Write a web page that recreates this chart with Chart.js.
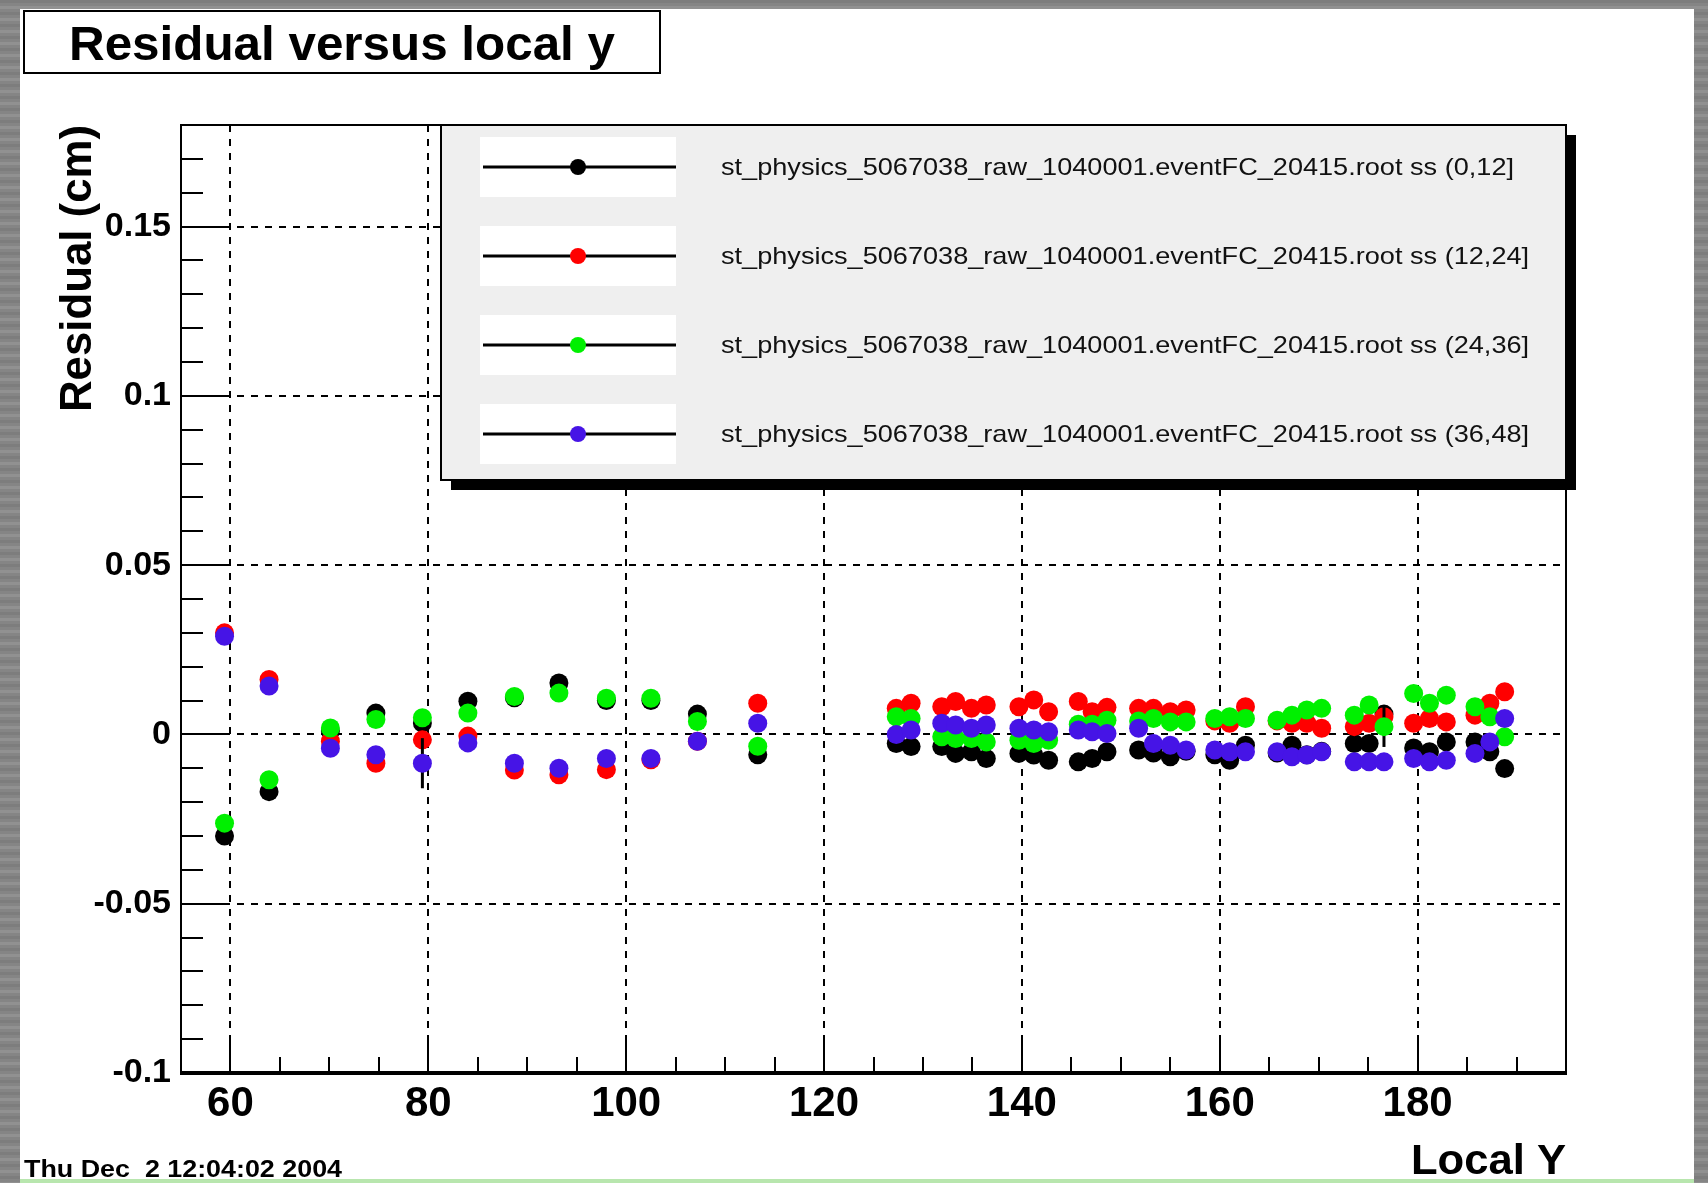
<!DOCTYPE html>
<html lang="en">
<head>
<meta charset="UTF-8">
<title>Residual versus local y</title>
<style>
  html, body { margin: 0; padding: 0; background: #8a8a8a; }
  canvas { display: block; }
</style>
</head>
<body>
<canvas id="residualChart" width="1708" height="1183"></canvas>
<script src="https://cdn.jsdelivr.net/npm/chart.js"></script>
<script>
// Local Y positions shared by the four slices
const localY = [59.4, 63.9, 70.1, 74.7, 79.4, 84.0, 88.7, 93.2, 98.0, 102.5, 107.2, 113.3,
  127.3, 128.8, 131.9, 133.3, 134.9, 136.4, 139.7, 141.2, 142.7, 145.7, 147.1, 148.6,
  151.8, 153.3, 155.0, 156.6, 159.5, 161.0, 162.6, 165.8, 167.3, 168.8, 170.3,
  173.6, 175.1, 176.6, 179.6, 181.2, 182.9, 185.8, 187.3, 188.8];

// residuals (cm) per slice
const resid0to12 = [-0.0300, -0.0169, 0.0010, 0.0063, 0.0034, 0.0098, 0.0108, 0.0152, 0.0100, 0.0100, 0.0060, -0.0060,
  -0.0027, -0.0036, -0.0036, -0.0056, -0.0051, -0.0071, -0.0056, -0.0061, -0.0076, -0.0081, -0.0071, -0.0051,
  -0.0046, -0.0055, -0.0066, -0.0050, -0.0060, -0.0076, -0.0032, -0.0055, -0.0032, -0.0060, -0.0050,
  -0.0027, -0.0027, 0.0060, -0.0040, -0.0051, -0.0022, -0.0022, -0.0051, -0.0101];
const resid12to24 = [0.0300, 0.0162, -0.0020, -0.0085, -0.0016, -0.0005, -0.0105, -0.0119, -0.0104, -0.0075, -0.0020, 0.0092,
  0.0077, 0.0092, 0.0082, 0.0097, 0.0077, 0.0087, 0.0082, 0.0102, 0.0067, 0.0097, 0.0067, 0.0080,
  0.0077, 0.0077, 0.0067, 0.0072, 0.0040, 0.0033, 0.0082, 0.0040, 0.0033, 0.0033, 0.0018,
  0.0023, 0.0033, 0.0052, 0.0033, 0.0047, 0.0037, 0.0057, 0.0092, 0.0126];
const resid24to36 = [-0.0262, -0.0134, 0.0019, 0.0044, 0.0049, 0.0063, 0.0112, 0.0122, 0.0107, 0.0107, 0.0038, -0.0035,
  0.0052, 0.0047, -0.0007, -0.0012, -0.0012, -0.0022, -0.0017, -0.0027, -0.0017, 0.0030, 0.0030, 0.0042,
  0.0040, 0.0047, 0.0037, 0.0037, 0.0047, 0.0052, 0.0047, 0.0042, 0.0057, 0.0072, 0.0077,
  0.0057, 0.0087, 0.0023, 0.0121, 0.0092, 0.0116, 0.0082, 0.0052, -0.0007];
const resid36to48 = [0.0290, 0.0143, -0.0041, -0.0060, -0.0085, -0.0025, -0.0085, -0.0100, -0.0071, -0.0071, -0.0020, 0.0033,
  0.0000, 0.0013, 0.0033, 0.0028, 0.0018, 0.0028, 0.0018, 0.0013, 0.0008, 0.0013, 0.0008, 0.0003,
  0.0018, -0.0027, -0.0032, -0.0046, -0.0046, -0.0051, -0.0051, -0.0051, -0.0066, -0.0061, -0.0051,
  -0.0081, -0.0081, -0.0081, -0.0071, -0.0081, -0.0076, -0.0056, -0.0022, 0.0047];

const residuals = [resid0to12, resid12to24, resid24to36, resid36to48];
const slices = ['(0,12]', '(12,24]', '(24,36]', '(36,48]'];
const filePrefix = 'st_physics_5067038_raw_1040001.eventFC_20415.root ss ';
const colors = ['#000000', '#ff0000', '#00f000', '#4614e6'];

// axis tick labels
const xTickValues = [60, 80, 100, 120, 140, 160, 180];
const yTickValues = [-0.1, -0.05, 0, 0.05, 0.1, 0.15];

// visible error bars: [series, point index, +/- error]
const errorBars = [[3, 4, 0.0074], [2, 37, 0.0060]];

const FONT = '"Liberation Sans", Arial, Helvetica, sans-serif';

function fitText(ctx, text, x, y, width, font) {
  ctx.font = font;
  const w = ctx.measureText(text).width;
  ctx.save();
  ctx.translate(x, y);
  ctx.scale(width / w, 1);
  ctx.textAlign = 'left';
  ctx.textBaseline = 'alphabetic';
  ctx.fillText(text, 0, 0);
  ctx.restore();
}

const rootStyle = {
  id: 'rootStyle',
  beforeDraw(chart) {
    const ctx = chart.ctx;
    ctx.save();
    ctx.fillStyle = '#858585';
    ctx.fillRect(0, 0, chart.width, chart.height);
    for (let y = 0; y < chart.height; y += 6) {
      ctx.fillStyle = (y / 6) % 2 ? 'rgba(255,255,255,0.10)' : 'rgba(0,0,0,0.06)';
      ctx.fillRect(0, y, chart.width, 3);
    }
    ctx.fillStyle = '#ffffff';
    ctx.fillRect(20, 9, 1674, 1171);
    ctx.fillStyle = '#b8e6ae';
    ctx.fillRect(20, 1179, 1674, 4);
    ctx.restore();
  },
  beforeDatasetDraw(chart, args) {
    const ctx = chart.ctx;
    const xs = chart.scales.x, ys = chart.scales.y;
    ctx.save();
    ctx.strokeStyle = '#000';
    ctx.lineWidth = 3;
    errorBars.forEach(([s, i, e]) => {
      if (s !== args.index) return;
      const px = xs.getPixelForValue(localY[i]);
      const v = residuals[s][i];
      ctx.beginPath();
      ctx.moveTo(px, ys.getPixelForValue(v - e));
      ctx.lineTo(px, ys.getPixelForValue(v + e));
      ctx.stroke();
    });
    ctx.restore();
  },
  afterDraw(chart) {
    const ctx = chart.ctx;
    const {left, right, top, bottom} = chart.chartArea;
    const xs = chart.scales.x, ys = chart.scales.y;
    ctx.save();

    // inner ticks
    ctx.strokeStyle = '#000';
    ctx.lineWidth = 2;
    ctx.beginPath();
    for (let k = Math.ceil(ys.min * 100 - 1e-6); k <= Math.floor(ys.max * 100 + 1e-6); k++) {
      const py = Math.round(ys.getPixelForValue(k / 100));
      const len = k % 5 === 0 ? 43 : 22;
      ctx.moveTo(left, py);
      ctx.lineTo(left + len, py);
    }
    for (let k = Math.ceil(xs.min / 5); k <= Math.floor(xs.max / 5); k++) {
      const px = Math.round(xs.getPixelForValue(k * 5));
      const len = (k * 5) % 20 === 0 ? 33 : 16;
      ctx.moveTo(px, bottom);
      ctx.lineTo(px, bottom - len);
    }
    ctx.stroke();

    // frame
    ctx.lineWidth = 2;
    ctx.strokeRect(left, top, right - left, bottom - top);
    ctx.lineWidth = 4;
    ctx.beginPath();
    ctx.moveTo(left - 1, bottom);
    ctx.lineTo(right + 1, bottom);
    ctx.stroke();

    // legend box with shadow
    const lg = {x: 441, y: top, w: right - 441, h: 355};
    ctx.fillStyle = '#000';
    ctx.fillRect(lg.x + 10, lg.y + 10, lg.w, lg.h);
    ctx.fillStyle = '#efefef';
    ctx.fillRect(lg.x, lg.y, lg.w, lg.h);
    ctx.lineWidth = 2;
    ctx.strokeStyle = '#000';
    ctx.strokeRect(lg.x, lg.y, lg.w, lg.h);
    ctx.font = '24px ' + FONT;
    const scaleX = 793 / ctx.measureText(filePrefix + slices[0]).width;
    chart.data.datasets.forEach((ds, i) => {
      const cy = lg.y + 42 + i * 89;
      ctx.fillStyle = '#ffffff';
      ctx.fillRect(480, cy - 30, 196, 60);
      ctx.strokeStyle = '#000';
      ctx.lineWidth = 3;
      ctx.beginPath();
      ctx.moveTo(483, cy);
      ctx.lineTo(676, cy);
      ctx.stroke();
      ctx.fillStyle = ds.backgroundColor;
      ctx.beginPath();
      ctx.arc(578, cy, 8, 0, Math.PI * 2);
      ctx.fill();
      ctx.fillStyle = '#111';
      ctx.font = '24px ' + FONT;
      const w = ctx.measureText(ds.label).width * scaleX;
      fitText(ctx, ds.label, 721, cy + 8, w, '24px ' + FONT);
    });

    // title box
    ctx.fillStyle = '#fff';
    ctx.fillRect(24, 11, 636, 62);
    ctx.strokeStyle = '#000';
    ctx.lineWidth = 2;
    ctx.strokeRect(24, 11, 636, 62);
    ctx.fillStyle = '#000';
    fitText(ctx, 'Residual versus local y', 69, 60, 546, 'bold 48px ' + FONT);

    // axis titles
    ctx.save();
    ctx.translate(91, 412);
    ctx.rotate(-Math.PI / 2);
    fitText(ctx, 'Residual (cm)', 0, 0, 287, 'bold 44px ' + FONT);
    ctx.restore();
    fitText(ctx, 'Local Y', right - 155, 1174, 155, 'bold 42px ' + FONT);

    // date stamp
    fitText(ctx, 'Thu Dec  2 12:04:02 2004', 24, 1177, 318, 'bold 24px ' + FONT);
    ctx.restore();
  }
};

const ctx = document.getElementById('residualChart').getContext('2d');
new Chart(ctx, {
  type: 'scatter',
  data: {
    datasets: residuals.map((vals, i) => ({
      label: filePrefix + slices[i],
      data: localY.map((x, j) => ({x: x, y: vals[j]})),
      backgroundColor: colors[i],
      borderColor: colors[i],
      borderWidth: 0,
      pointRadius: 9.5,
      pointHoverRadius: 9.5,
      order: 3 - i
    }))
  },
  options: {
    responsive: false,
    animation: false,
    events: [],
    layout: { padding: { left: 20, top: 125, right: 142, bottom: 50 } },
    plugins: { legend: { display: false }, tooltip: { enabled: false } },
    scales: {
      x: {
        type: 'linear',
        min: 55,
        max: 195,
        afterBuildTicks: s => { s.ticks = xTickValues.map(v => ({ value: v })); },
        afterFit: s => { s.height = 60; },
        ticks: {
          autoSkip: false,
          maxRotation: 0,
          padding: 6,
          color: '#000',
          font: { family: FONT, size: 42, weight: 'bold' }
        },
        grid: { color: '#000', lineWidth: 2, drawTicks: false },
        border: { display: false, dash: [7, 7] }
      },
      y: {
        type: 'linear',
        min: -0.1,
        max: 0.18,
        afterBuildTicks: s => { s.ticks = yTickValues.map(v => ({ value: v })); },
        afterFit: s => { s.width = 161; },
        ticks: {
          padding: 10,
          color: '#000',
          font: { family: FONT, size: 34, weight: 'bold' },
          callback: v => String(+Number(v).toFixed(2))
        },
        grid: { color: '#000', lineWidth: 2, drawTicks: false },
        border: { display: false, dash: [7, 7] }
      }
    }
  },
  plugins: [rootStyle]
});
</script>
</body>
</html>
